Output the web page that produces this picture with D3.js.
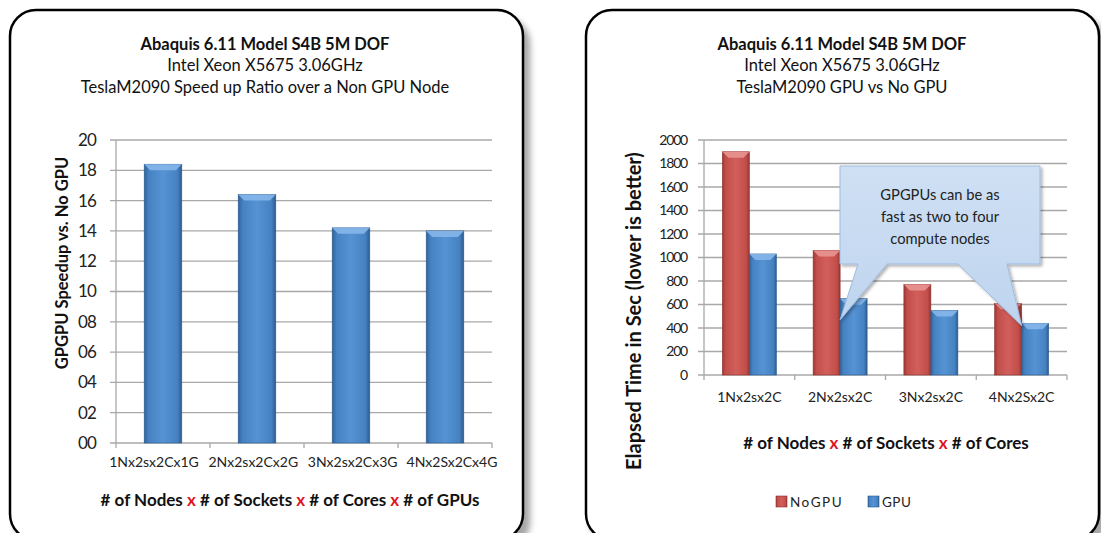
<!DOCTYPE html>
<html>
<head>
<meta charset="utf-8">
<script src="https://cdn.jsdelivr.net/npm/d3@7"></script>
<style>
  html, body { margin: 0; padding: 0; background: #fff; }
  svg { display: block; font-family: Lato, "Open Sans", sans-serif; }
</style>
</head>
<body>
<svg id="chart" width="1101" height="533"></svg>
<script>
// ---- data ----
const speedupCategories = ["1Nx2sx2Cx1G", "2Nx2sx2Cx2G", "3Nx2sx2Cx3G", "4Nx2Sx2Cx4G"];
const speedupValues = [18.4, 16.4, 14.2, 14.0];
const speedupTicks = [0, 2, 4, 6, 8, 10, 12, 14, 16, 18, 20];

const timeCategories = ["1Nx2sx2C", "2Nx2sx2C", "3Nx2sx2C", "4Nx2Sx2C"];
const timeSeries = ["NoGPU", "GPU"];
const noGpuValues = [1900, 1060, 770, 610];
const gpuValues = [1030, 650, 550, 440];
const timeTicks = [0, 200, 400, 600, 800, 1000, 1200, 1400, 1600, 1800, 2000];

const titleLines = ["Abaquis 6.11 Model S4B 5M DOF", "Intel Xeon X5675 3.06GHz"];
const leftSubtitle = "TeslaM2090 Speed up Ratio over a Non GPU Node";
const rightSubtitle = "TeslaM2090 GPU vs No GPU";
const calloutLines = ["GPGPUs can be as", "fast as two to four", "compute nodes"];

const svg = d3.select("#chart");
const defs = svg.append("defs");

// panel drop shadow
const shadow = defs.append("filter").attr("id", "panelShadow")
  .attr("x", "-5%").attr("y", "-5%").attr("width", "115%").attr("height", "115%");
shadow.append("feDropShadow").attr("dx", 6).attr("dy", 8)
  .attr("stdDeviation", 3).attr("flood-color", "#000").attr("flood-opacity", 0.35);

const calloutShadow = defs.append("filter").attr("id", "calloutShadow")
  .attr("x", "-10%").attr("y", "-10%").attr("width", "125%").attr("height", "125%");
calloutShadow.append("feDropShadow").attr("dx", 2).attr("dy", 2)
  .attr("stdDeviation", 1.5).attr("flood-color", "#000").attr("flood-opacity", 0.3);

// horizontal bar shading gradients
function barGradient(id, stops) {
  const g = defs.append("linearGradient").attr("id", id)
    .attr("x1", "0%").attr("x2", "100%").attr("y1", "0%").attr("y2", "0%");
  stops.forEach(([o, c]) => g.append("stop").attr("offset", o).attr("stop-color", c));
}
barGradient("blueBar", [["0%", "#2f6399"], ["12%", "#4682c2"], ["50%", "#5593d4"], ["88%", "#4682c2"], ["100%", "#2c5c90"]]);
barGradient("redBar", [["0%", "#9c3734"], ["12%", "#c24e4a"], ["50%", "#d25f5b"], ["88%", "#c24e4a"], ["100%", "#983532"]]);

const calloutGrad = defs.append("linearGradient").attr("id", "calloutFill")
  .attr("x1", "0%").attr("x2", "0%").attr("y1", "0%").attr("y2", "100%");
calloutGrad.append("stop").attr("offset", "0%").attr("stop-color", "#cfe0f4");
calloutGrad.append("stop").attr("offset", "100%").attr("stop-color", "#bed4ee");

const barStyles = {
  blue: { fill: "url(#blueBar)", bevel: "#86b6ea", edge: "#2b5a8d" },
  red: { fill: "url(#redBar)", bevel: "#e89591", edge: "#8e312e" }
};

// ---- panels ----
function panel(x, y, w, h) {
  svg.append("rect").attr("x", x).attr("y", y).attr("width", w).attr("height", h)
    .attr("rx", 26).attr("ry", 26)
    .attr("fill", "#fff").attr("stroke", "#000").attr("stroke-width", 2.5)
    .attr("filter", "url(#panelShadow)");
}
panel(10, 10, 513, 530);
panel(586, 10, 513, 530);

function titles(cx, subtitle) {
  const t = svg.append("g").attr("text-anchor", "middle").attr("fill", "#111");
  t.append("text").attr("x", cx).attr("y", 50).attr("font-size", 16.5).attr("font-weight", "bold").text(titleLines[0]);
  t.append("text").attr("x", cx).attr("y", 71).attr("font-size", 16.5).text(titleLines[1]);
  t.append("text").attr("x", cx).attr("y", 93).attr("font-size", 16.5).text(subtitle);
}
titles(265, leftSubtitle);
titles(842, rightSubtitle);

// draws one bevelled bar
function drawBar(g, x, y, w, h, style) {
  g.append("rect").attr("x", x).attr("y", y).attr("width", w).attr("height", h)
    .attr("fill", style.fill).attr("stroke", style.edge).attr("stroke-width", 0.6);
  const b = Math.min(6, h / 2);
  g.append("path")
    .attr("d", `M${x},${y} L${x + w},${y} L${x + w - b},${y + b} L${x + b},${y + b} Z`)
    .attr("fill", style.bevel).attr("opacity", 0.9);
}

function gridAndAxes(g, x, y, ticks, tickFmt, tickFont, tickSpacing, labelGap) {
  const [x0, x1] = x.range();
  g.append("g").selectAll("line").data(ticks).join("line")
    .attr("x1", x0 - 6).attr("x2", x1)
    .attr("y1", d => y(d)).attr("y2", d => y(d))
    .attr("stroke", "#a8a8a8").attr("stroke-width", 1.3);
  g.append("line").attr("x1", x0).attr("x2", x0)
    .attr("y1", y.range()[1]).attr("y2", y.range()[0])
    .attr("stroke", "#a8a8a8").attr("stroke-width", 1.3);
  g.append("g").attr("text-anchor", "end").selectAll("text").data(ticks).join("text")
    .attr("x", x0 - labelGap).attr("y", d => y(d)).attr("dy", "0.35em")
    .attr("font-size", tickFont).attr("letter-spacing", tickSpacing).attr("fill", "#222")
    .text(tickFmt);
  const step = x.step();
  const bounds = d3.range(x.domain().length + 1).map(i => x0 + i * step);
  g.append("g").selectAll("line").data(bounds).join("line")
    .attr("x1", d => d).attr("x2", d => d)
    .attr("y1", y(0)).attr("y2", y(0) + 5)
    .attr("stroke", "#a8a8a8").attr("stroke-width", 1.3);
}

// ---- left chart: speedup ----
{
  const g = svg.append("g");
  const x = d3.scaleBand().domain(speedupCategories).range([116, 492])
    .paddingInner(0.6).paddingOuter(0.3);
  const y = d3.scaleLinear().domain([0, 20]).range([443, 140]);
  gridAndAxes(g, x, y, speedupTicks, d3.format("02d"), 17, -0.8, 20);

  speedupCategories.forEach((c, i) => {
    drawBar(g, x(c), y(speedupValues[i]), x.bandwidth(), y(0) - y(speedupValues[i]), barStyles.blue);
  });

  // category labels are spread a little wider than the bands so they don't crowd
  const labelX = d3.scalePoint().domain(speedupCategories).range([154, 452]);
  g.append("g").attr("text-anchor", "middle").selectAll("text").data(speedupCategories).join("text")
    .attr("x", d => labelX(d)).attr("y", 467)
    .attr("font-size", 14).attr("fill", "#222").text(d => d);

  g.append("text").attr("transform", "translate(68,263) rotate(-90)")
    .attr("text-anchor", "middle").attr("font-size", 16.5).attr("font-weight", "bold")
    .attr("fill", "#111").text("GPGPU Speedup vs. No GPU");

  const xt = g.append("text").attr("x", 290).attr("y", 506).attr("text-anchor", "middle")
    .attr("font-size", 17).attr("font-weight", "bold").attr("fill", "#111");
  ["# of Nodes ", "x", " # of Sockets ", "x", " # of Cores ", "x", " # of GPUs"].forEach(s => {
    xt.append("tspan").attr("fill", s === "x" ? "#e0141e" : "#111").text(s);
  });
}

// ---- right chart: elapsed time ----
{
  const g = svg.append("g");
  const x0 = d3.scaleBand().domain(timeCategories).range([704, 1067])
    .paddingInner(0.405).paddingOuter(0.2025);
  const x1 = d3.scaleBand().domain(timeSeries).range([0, x0.bandwidth()]);
  const y = d3.scaleLinear().domain([0, 2000]).range([375, 140]);
  gridAndAxes(g, x0, y, timeTicks, d => String(d), 14, -1.2, 17);

  const seriesValues = { NoGPU: noGpuValues, GPU: gpuValues };
  const seriesStyle = { NoGPU: barStyles.red, GPU: barStyles.blue };
  timeCategories.forEach((c, i) => {
    timeSeries.forEach(s => {
      const v = seriesValues[s][i];
      drawBar(g, x0(c) + x1(s), y(v), x1.bandwidth(), y(0) - y(v), seriesStyle[s]);
    });
  });

  g.append("g").attr("text-anchor", "middle").selectAll("text").data(timeCategories).join("text")
    .attr("x", d => x0(d) + x0.bandwidth() / 2).attr("y", 402)
    .attr("font-size", 14).attr("fill", "#222").text(d => d);

  g.append("text").attr("transform", "translate(641,311) rotate(-90)")
    .attr("text-anchor", "middle").attr("font-size", 20).attr("font-weight", "bold")
    .attr("fill", "#111").text("Elapsed Time in Sec (lower is better)");

  const xt = g.append("text").attr("x", 886).attr("y", 449).attr("text-anchor", "middle")
    .attr("font-size", 17).attr("font-weight", "bold").attr("fill", "#111");
  ["# of Nodes ", "x", " # of Sockets ", "x", " # of Cores"].forEach(s => {
    xt.append("tspan").attr("fill", s === "x" ? "#e0141e" : "#111").text(s);
  });

  // legend
  const legend = g.append("g");
  const legendX = { NoGPU: 776, GPU: 868 };
  timeSeries.forEach(s => {
    const lx = legendX[s];
    legend.append("rect").attr("x", lx).attr("y", 496).attr("width", 11).attr("height", 11)
      .attr("fill", seriesStyle[s].fill).attr("stroke", seriesStyle[s].edge).attr("stroke-width", 0.6);
    legend.append("text").attr("x", lx + 14).attr("y", 507).attr("font-size", 13.5)
      .attr("letter-spacing", s === "NoGPU" ? 1.5 : 0.5).attr("fill", "#222").text(s);
  });

  // callout pointing at the GPU bars of the 2- and 4-node runs
  const box = { x: 840, y: 166, w: 200, h: 98 };
  const tipA = [x0(timeCategories[1]) + x1("GPU"), y(470)];
  const tipB = [x0(timeCategories[3]) + x1("GPU"), y(420)];
  const bx = box.x, by = box.y, bw = box.w, bh = box.h;
  const calloutPath =
    `M${bx},${by} L${bx + bw},${by} L${bx + bw},${by + bh} ` +
    `L${1007},${by + bh} L${tipB[0]},${tipB[1]} L${958},${by + bh} ` +
    `L${887},${by + bh} L${tipA[0]},${tipA[1]} L${858},${by + bh} ` +
    `L${bx},${by + bh} Z`;
  g.append("path").attr("d", calloutPath)
    .attr("fill", "url(#calloutFill)").attr("stroke", "#9fbbe0").attr("stroke-width", 1)
    .attr("filter", "url(#calloutShadow)");
  g.append("g").attr("text-anchor", "middle").selectAll("text").data(calloutLines).join("text")
    .attr("x", bx + bw / 2).attr("y", (d, i) => 200 + i * 22)
    .attr("font-size", 14.7).attr("fill", "#222").text(d => d);
}
</script>
</body>
</html>
